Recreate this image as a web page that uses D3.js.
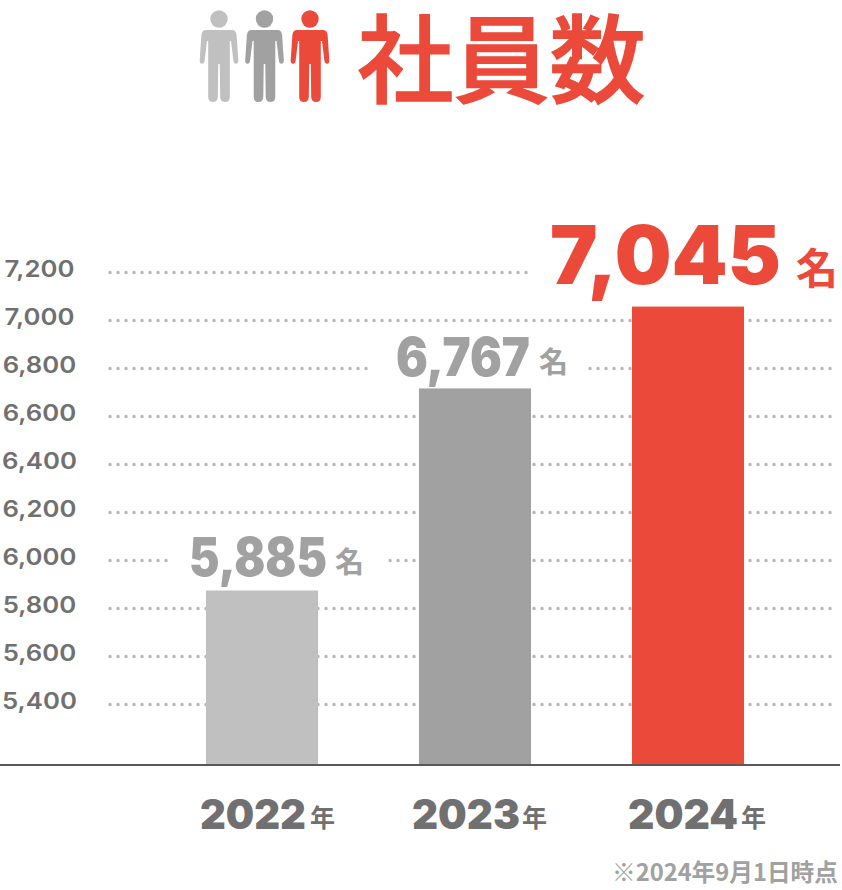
<!DOCTYPE html>
<html>
<head>
  <meta charset="utf-8">
  <script src="https://cdn.jsdelivr.net/npm/d3@7"></script>
  <style>
    html, body { margin:0; padding:0; background:#fff; }
    svg { display:block; }
  </style>
</head>
<body>
<svg id="chart" width="842" height="890"></svg>
<script>
// numbers from the picture
var years = ["2022", "2023", "2024"];
var staff = [5885, 6767, 7045];
// the bars are not quite drawn to their printed number, these are read against the axis
var barLevels = [5875, 6717, 7058];
var ticks = [5400, 5600, 5800, 6000, 6200, 6400, 6600, 6800, 7000, 7200];
var barColors = ["#c0c0c0", "#a0a1a0", "#eb4a3a"];
var labelColors = ["#a0a1a0", "#a0a1a0", "#eb4a3a"];

var latin = "Inter, sans-serif";
var cjk = "'Noto Sans CJK JP', sans-serif";

var svg = d3.select("#chart");
var y = d3.scaleLinear().domain([5400, 7200]).range([704.5, 272.5]);
var x = d3.scaleBand().domain(years).range([155.5, 794.5]).paddingInner(0.474).paddingOuter(0.237);

// squeeze or stretch a text sideways to a wanted width
function fitText(sel, px, py, w) {
  var sx = w / sel.node().getComputedTextLength();
  sel.attr("transform", "translate(" + px + "," + py + ") scale(" + sx + ",1)");
}

// title + people
var personPath = "M-13,30Q-17,30-17.6,35L-19.3,60Q-19.5,63.8-17,63.8Q-14.6,63.8-14.3,60L-12,41L-10.8,41L-10.8,97Q-10.8,102-6,102Q-1.5,102-1.2,97L-0.8,64L0.8,64L1.2,97Q1.5,102,6,102Q10.8,102,10.8,97L10.8,41L12,41L14.3,60Q14.6,63.8,17,63.8Q19.5,63.8,19.3,60L17.6,35Q17,30,13,30Z";
var people = svg.append("g").selectAll("g").data(barColors).enter().append("g")
    .attr("transform", (d, i) => "translate(" + (219 + i * 45.5) + ",0)")
    .attr("fill", d => d);
people.append("circle").attr("cy", 19).attr("r", 8.7);
people.append("path").attr("d", personPath);

svg.append("text").attr("x", 501.5).attr("y", 95)
    .attr("text-anchor", "middle")
    .attr("font-family", cjk).attr("font-weight", 500).attr("font-size", 96)
    .attr("stroke", "#eb4a3a").attr("stroke-width", 1.5)
    .attr("fill", "#eb4a3a").text("社員数");

// dotted grid
svg.append("g").selectAll("line").data(ticks).enter().append("line")
    .attr("x1", 110).attr("x2", 835)
    .attr("y1", d => y(d)).attr("y2", d => y(d))
    .attr("stroke", "#b4b4b4").attr("stroke-width", 3.4)
    .attr("stroke-linecap", "round").attr("stroke-dasharray", "0 8");

// axis labels
var axis = svg.append("g").attr("transform", "translate(39.5,-3.5)")
    .call(d3.axisLeft(y).tickValues(ticks).tickSize(0).tickFormat(d3.format(",")));
axis.select(".domain").remove();
axis.selectAll("text")
    .attr("x", 0).attr("text-anchor", "middle")
    .attr("font-family", latin).attr("font-weight", 600).attr("font-size", 23)
    .attr("transform", "scale(1.12,1)")
    .attr("fill", "#707070");

// white cuts under the value labels
var cuts = [[168.5, 220], [368.5, 219], [530, 312]];
var cutY = [y(6000), y(6800), y(7200)];
svg.append("g").selectAll("rect").data(cuts).enter().append("rect")
    .attr("x", d => d[0]).attr("width", d => d[1])
    .attr("y", (d, i) => cutY[i] - 4).attr("height", 8)
    .attr("fill", "#fff");

// bars
svg.append("g").selectAll("rect").data(years).enter().append("rect")
    .attr("x", d => x(d)).attr("width", x.bandwidth())
    .attr("y", (d, i) => y(barLevels[i]))
    .attr("height", (d, i) => 765 - y(barLevels[i]))
    .attr("fill", (d, i) => barColors[i]);

// base line
svg.append("line").attr("x1", 0).attr("x2", 840).attr("y1", 765).attr("y2", 765)
    .attr("stroke", "#595959").attr("stroke-width", 2);

// value labels
var fmt = d3.format(",");
var valueStyle = [
  { x: 189, base: 576, w: 138, size: 53, unitX: 335, unitBase: 573, unit: 29 },
  { x: 396, base: 376, w: 134, size: 53, unitX: 539, unitBase: 373, unit: 29 },
  { x: 550, base: 284, w: 231, size: 81, unitX: 796, unitBase: 284, unit: 42 }
];
staff.forEach(function(v, i) {
  var s = valueStyle[i];
  var t = svg.append("text")
      .attr("font-family", latin).attr("font-weight", 900).attr("font-size", s.size)
      .attr("fill", labelColors[i]).text(fmt(v));
  fitText(t, s.x, s.base, s.w);
  svg.append("text").attr("x", s.unitX).attr("y", s.unitBase)
      .attr("font-family", cjk).attr("font-weight", 700).attr("font-size", s.unit)
      .attr("fill", labelColors[i]).text("名");
});

// year labels
var yearX = [200, 412, 628], yearW = [106, 108, 110], nenX = [310, 522, 741];
years.forEach(function(d, i) {
  var t = svg.append("text")
      .attr("font-family", latin).attr("font-weight", 900).attr("font-size", 41)
      .attr("fill", "#707070").text(d);
  fitText(t, yearX[i], 829, yearW[i]);
  svg.append("text").attr("x", nenX[i]).attr("y", 827)
      .attr("font-family", cjk).attr("font-weight", 700).attr("font-size", 25)
      .attr("fill", "#707070").text("年");
});

// note
svg.append("text").attr("x", 838).attr("y", 881)
    .attr("text-anchor", "end")
    .attr("font-family", cjk).attr("font-weight", 700).attr("font-size", 23.7)
    .attr("fill", "#a0a1a0").text("※2024年9月1日時点");
</script>
</body>
</html>
